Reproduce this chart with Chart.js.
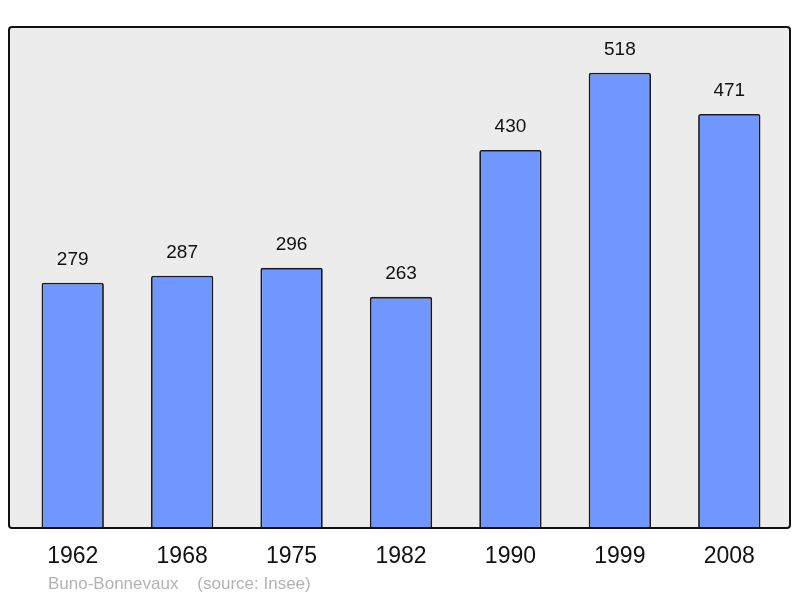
<!DOCTYPE html>
<html>
<head>
<meta charset="utf-8">
<script src="https://cdn.jsdelivr.net/npm/chart.js@4"></script>
<style>
	html, body { margin: 0; padding: 0; background: #fff; }
	#wrap { width: 800px; height: 598px; }
</style>
</head>
<body>
<div id="wrap"><canvas id="popChart" width="800" height="598"></canvas></div>
<script>
	// 연도 / 인구
	var years = ["1962", "1968", "1975", "1982", "1990", "1999", "2008"];
	var population = [279, 287, 296, 263, 430, 518, 471];
	var placeName = "Buno-Bonnevaux";
	var sourceText = "(source: Insee)";

	// 배경 박스, 값 라벨, 연도 라벨
	var decoPlugin = {
		id: "deco",
		beforeDatasetsDraw: function(chart) {
			var ctx = chart.ctx;
			ctx.save();
			ctx.fillStyle = "#ececec";
			ctx.beginPath();
			ctx.roundRect(9, 27, 781, 501, 3);
			ctx.fill();
			ctx.restore();
		},
		afterDatasetsDraw: function(chart) {
			var ctx = chart.ctx;
			var xs = chart.scales.x;
			var ys = chart.scales.y;
			ctx.save();
			ctx.strokeStyle = "#111";
			ctx.lineWidth = 2;
			ctx.beginPath();
			ctx.roundRect(9, 27, 781, 501, 3);
			ctx.stroke();

			ctx.textAlign = "center";
			ctx.textBaseline = "middle";
			ctx.fillStyle = "#111";
			ctx.font = "19px 'Liberation Sans', Arial, sans-serif";
			for (var i = 0; i < population.length; i++) {
				var px = xs.getPixelForValue(i);
				var py = ys.getPixelForValue(population[i]);
				ctx.fillText(String(population[i]), px, py - 23);
			} // end for

			ctx.font = "23px 'Liberation Sans', Arial, sans-serif";
			for (var j = 0; j < years.length; j++) {
				ctx.fillText(years[j], xs.getPixelForValue(j), 557);
			} // end for

			ctx.textAlign = "left";
			ctx.fillStyle = "#b3b3b3";
			ctx.font = "17px 'Liberation Sans', Arial, sans-serif";
			ctx.fillText(placeName + "    " + sourceText, 48, 584);
			ctx.restore();
		}
	}; // decoPlugin

	new Chart(document.getElementById("popChart"), {
		type: "bar",
		data: {
			labels: years,
			datasets: [{
				data: population,
				backgroundColor: "#7096ff",
				borderColor: "#1a1a1a",
				borderWidth: 1.8,
				borderRadius: 2,
				borderSkipped: "bottom",
				barPercentage: 0.57,
				categoryPercentage: 1
			}]
		},
		options: {
			responsive: false,
			animation: false,
			layout: { padding: { left: 18, right: 16, top: 27, bottom: 70 } },
			plugins: {
				legend: { display: false },
				tooltip: { enabled: false }
			},
			scales: {
				x: { display: false },
				y: { display: false, min: 0, max: 570 }
			}
		},
		plugins: [decoPlugin]
	}); // end chart
</script>
</body>
</html>
